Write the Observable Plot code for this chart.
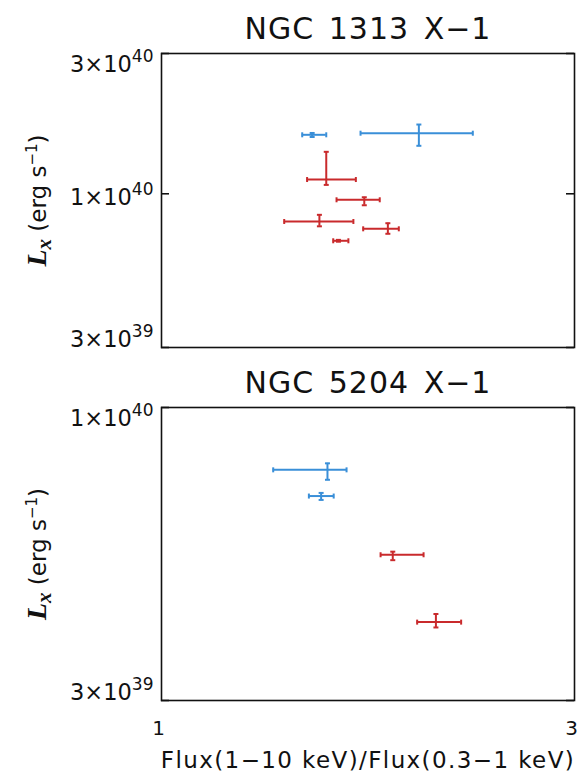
<!DOCTYPE html>
<html><head><meta charset="utf-8">
<script src="https://cdn.jsdelivr.net/npm/d3@7"></script>
<script src="https://cdn.jsdelivr.net/npm/@observablehq/plot@0.6"></script>
<style>
body{margin:0;background:#fff;}
#chart{width:581px;}
#chart svg{display:block;}
</style>
</head><body><div id="chart"></div>
<script>
// ---- shared text / ticks ----
const xTicks = [1, 3];
const xTitle = "Flux(1−10 keV)/Flux(0.3−1 keV)";
const yTitleKey = "Lx";
const groups = ["set A", "set B"];

// ---- NGC 1313 X-1 ----
const n1313Title = "NGC 1313 X−1";
const n1313Group   = ["set A", "set A", "set B", "set B", "set B", "set B", "set B"];
const n1313Ratio   = [1.493, 1.983, 1.550, 1.715, 1.522, 1.826, 1.601];
const n1313RatioLo = [1.454, 1.698, 1.473, 1.593, 1.386, 1.710, 1.579];
const n1313RatioHi = [1.550, 2.289, 1.677, 1.787, 1.666, 1.880, 1.644];
const n1313Lx      = [1.587e40, 1.607e40, 1.118e40, 9.54e39, 8.05e39, 7.60e39, 6.92e39];
const n1313LxLo    = [1.560e40, 1.456e40, 1.072e40, 9.14e39, 7.75e39, 7.31e39, 6.87e39];
const n1313LxHi    = [1.610e40, 1.720e40, 1.389e40, 9.73e39, 8.48e39, 7.94e39, 6.97e39];
const n1313YDomain = [3e39, 3e40];
const n1313YTicks  = [3e39, 1e40, 3e40];

// ---- NGC 5204 X-1 ----
const n5204Title = "NGC 5204 X−1";
const n5204Group   = ["set A", "set A", "set B", "set B"];
const n5204Ratio   = [1.555, 1.529, 1.850, 2.075];
const n5204RatioLo = [1.346, 1.480, 1.791, 1.974];
const n5204RatioHi = [1.636, 1.581, 2.008, 2.219];
const n5204Lx      = [7.74e39, 6.95e39, 5.46e39, 4.14e39];
const n5204LxLo    = [7.43e39, 6.84e39, 5.34e39, 4.05e39];
const n5204LxHi    = [7.95e39, 7.04e39, 5.53e39, 4.28e39];
const n5204YDomain = [3e39, 1e40];
const n5204YTicks  = [3e39, 1e40];

const palette = ["#3a8fd8", "#c92a2c"];
const FONT = "DejaVu Sans";
const NS = "http://www.w3.org/2000/svg";

const vbar = {draw(ctx, size){ const r = Math.sqrt(size/Math.PI); ctx.moveTo(0,-r); ctx.lineTo(0,r); }};
const hbar = {draw(ctx, size){ const r = Math.sqrt(size/Math.PI); ctx.moveTo(-r,0); ctx.lineTo(r,0); }};

function fmtPow(d){
  const e = Math.floor(Math.log10(d) + 1e-9);
  const m = Math.round(d / 10 ** e);
  return `${m}×10^${e}`;
}

function tspan(parent, txt, attrs){
  const t = document.createElementNS(NS, "tspan");
  t.textContent = txt;
  for (const k in attrs) t.setAttribute(k, attrs[k]);
  parent.appendChild(t);
  return t;
}

function makePanel(o){
  const data = o.ratio.map((r, i) => ({
    group: o.group[i], ratio: r, rLo: o.ratioLo[i], rHi: o.ratioHi[i],
    lx: o.lx[i], lLo: o.lxLo[i], lHi: o.lxHi[i]
  }));
  const W = 581, ML = 161, MR = 7;
  const plotW = W - ML - MR;
  const marks = [
    Plot.ruleY(data, {y: "lx", x1: "rLo", x2: "rHi", stroke: "group", strokeWidth: 2}),
    Plot.ruleX(data, {x: "ratio", y1: "lLo", y2: "lHi", stroke: "group", strokeWidth: 2}),
    Plot.dot(data, {x: "rLo", y: "lx", symbol: vbar, r: 2.5, stroke: "group", strokeWidth: 2, fill: "none"}),
    Plot.dot(data, {x: "rHi", y: "lx", symbol: vbar, r: 2.5, stroke: "group", strokeWidth: 2, fill: "none"}),
    Plot.dot(data, {x: "ratio", y: "lLo", symbol: hbar, r: 2.5, stroke: "group", strokeWidth: 2, fill: "none"}),
    Plot.dot(data, {x: "ratio", y: "lHi", symbol: hbar, r: 2.5, stroke: "group", strokeWidth: 2, fill: "none"}),
    Plot.frame({stroke: "#111", strokeWidth: 1.6}),
    Plot.tickY(o.yTicks, {y: d => d, insetRight: plotW - 8, stroke: "#111", strokeWidth: 1.6}),
    Plot.tickY(o.yTicks, {y: d => d, insetLeft: plotW - 8, stroke: "#111", strokeWidth: 1.6}),
    Plot.axisY(o.yTicks, {tickSize: 0, tickPadding: 8, tickFormat: fmtPow, fontSize: 22.5, fill: "#111"}),
    Plot.text([o.title], {text: d => d, frameAnchor: "top", dy: -24, lineAnchor: "middle", fontSize: 30, fill: "#111"}),
    Plot.text([yTitleKey], {text: d => d, frameAnchor: "left", dx: -123, rotate: -90, textAnchor: "middle", lineAnchor: "middle", fontSize: 23, fill: "#111"})
  ];
  if (o.xAxis){
    marks.push(Plot.axisX(xTicks, {tickSize: 0, tickPadding: 20, tickFormat: d => String(d), fontSize: 20, dx: -3, fill: "#111"}));
    marks.push(Plot.text([xTitle], {text: d => d, frameAnchor: "bottom", dy: 60, lineAnchor: "middle", fontSize: 23, fill: "#111"}));
  }
  const svg = Plot.plot({
    width: W, height: o.height,
    marginLeft: ML, marginRight: MR, marginTop: o.mt, marginBottom: o.mb,
    style: {fontFamily: FONT, background: "#fff", color: "#111", overflow: "visible"},
    x: {type: "log", domain: [1, 3], axis: o.xAxis ? undefined : null},
    y: {type: "log", domain: o.yDomain},
    color: {domain: groups, range: palette},
    marks
  });

  const yMax = o.yDomain[1], yMin = o.yDomain[0];
  svg.querySelectorAll("text").forEach(t => {
    const s = t.textContent;
    if (s.includes("×10^")) {
      // superscript tick labels, corner labels kept inside the frame
      const [base, exp] = s.split("^");
      const v = +base.split("×")[0] * 10 ** +exp;
      let shift = -3;
      if (Math.abs(v - yMax) / yMax < 1e-6) shift = 4;
      else if (Math.abs(v - yMin) / yMin < 1e-6) shift = -15;
      t.textContent = "";
      t.setAttribute("dy", (0.32 * 22.5 + shift).toFixed(1));
      tspan(t, base, {});
      tspan(t, exp, {"font-size": 17, dy: -10});
    } else if (s === o.title) {
      t.setAttribute("letter-spacing", "1");
      t.setAttribute("word-spacing", "4");
    } else if (s === xTitle) {
      t.setAttribute("letter-spacing", "1.4");
    } else if (s === yTitleKey) {
      t.textContent = "";
      tspan(t, "L", {"font-family": "Liberation Serif", "font-style": "italic", "font-weight": "bold", "font-size": 28});
      tspan(t, "x", {"font-family": "Liberation Serif", "font-style": "italic", "font-weight": "bold", "font-size": 21, dy: 5});
      tspan(t, " (erg s", {dy: -5});
      tspan(t, "−1", {"font-size": 15, dy: -9});
      tspan(t, ")", {dy: 9});
    }
  });
  return svg;
}

const chart = document.getElementById("chart");
chart.appendChild(makePanel({
  title: n1313Title, group: n1313Group, ratio: n1313Ratio, ratioLo: n1313RatioLo, ratioHi: n1313RatioHi,
  lx: n1313Lx, lxLo: n1313LxLo, lxHi: n1313LxHi, yDomain: n1313YDomain, yTicks: n1313YTicks,
  height: 360, mt: 53, mb: 13, xAxis: false
}));
chart.appendChild(makePanel({
  title: n5204Title, group: n5204Group, ratio: n5204Ratio, ratioLo: n5204RatioLo, ratioHi: n5204RatioHi,
  lx: n5204Lx, lxLo: n5204LxLo, lxHi: n5204LxHi, yDomain: n5204YDomain, yTicks: n5204YTicks,
  height: 415, mt: 47, mb: 75, xAxis: true
}));
</script>
</body></html>
